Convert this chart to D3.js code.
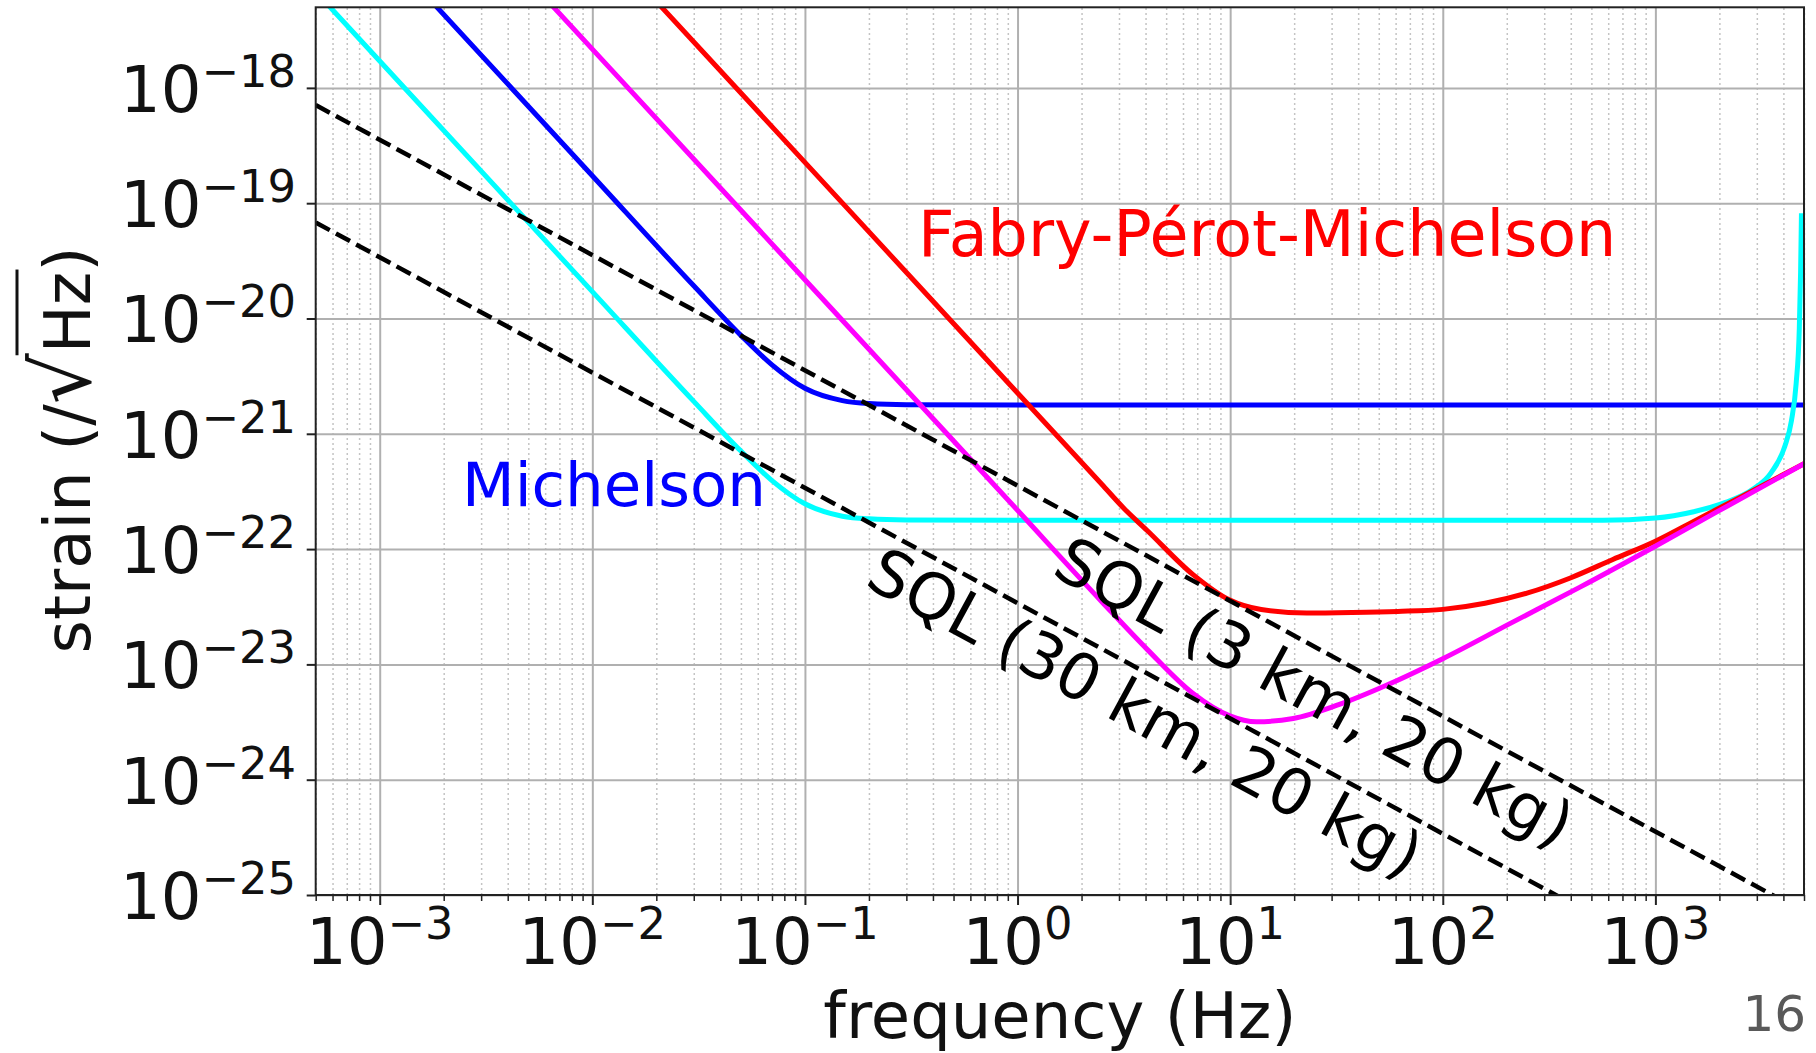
<!DOCTYPE html>
<html>
<head>
<meta charset="utf-8">
<script src="https://d3js.org/d3.v7.min.js"></script>
<style>
  body { margin: 0; background: #fff; }
  svg text { font-family: "DejaVu Sans", sans-serif; }
</style>
</head>
<body>
<svg id="chart" width="1816" height="1053"></svg>
<script>
// [frequency (Hz), strain (1/sqrt(Hz))]
var michelson = [[1.5e-3, 7.7e-18], [1e-2, 1.73e-19], [3e-2, 1.92e-20], [5e-2, 7.14e-21], [7e-2, 3.96e-21],
  [0.1, 2.48e-21], [0.15, 1.94e-21], [0.2, 1.83e-21], [0.3, 1.79e-21], [1, 1.78e-21], [5000, 1.78e-21]]
var michelsonLong = [[5e-4, 6.85e-18], [1e-3, 1.71e-18], [1e-2, 1.71e-20], [3e-2, 1.91e-21], [5e-2, 7.08e-22],
  [7e-2, 3.93e-22], [0.1, 2.47e-22], [0.15, 1.93e-22], [0.2, 1.83e-22], [0.3, 1.79e-22], [1, 1.78e-22],
  [100, 1.78e-22], [565, 1.78e-22], [1000, 1.86e-22], [1514, 2.11e-22], [2138, 2.54e-22], [2871, 3.30e-22],
  [3499, 4.59e-22], [4055, 7.71e-22], [4365, 1.30e-21], [4592, 2.72e-21], [4753, 8.24e-21], [4819, 2.51e-20],
  [4864, 8.18e-20]]
var fpm = [[0.015, 1.0e-17], [0.1, 2.26e-19], [1, 2.26e-21], [2.49, 3.65e-22], [3.16, 2.26e-22], [4.07, 1.45e-22],
  [6.67, 6.03e-23], [9.9, 3.63e-23], [14, 2.99e-23], [22.9, 2.79e-23], [37.5, 2.82e-23], [61.4, 2.88e-23],
  [100, 3.0e-23], [158, 3.39e-23], [251, 4.17e-23], [398, 5.62e-23], [631, 8.13e-23], [1000, 1.17e-22],
  [1585, 1.82e-22], [2512, 2.82e-22], [5000, 5.5e-22]]
var fpmLong = [[5e-3, 8.67e-18], [0.01, 2.17e-18], [0.1, 2.17e-20], [1, 2.17e-22], [2.49, 3.50e-23],
  [4.07, 1.35e-23], [6.67, 5.62e-24], [9.9, 3.60e-24], [13.3, 3.18e-24], [19.8, 3.39e-24], [32.4, 4.47e-24],
  [53, 6.46e-24], [100, 1.12e-23], [210, 2.29e-23], [442, 4.68e-23], [1009, 1.07e-22], [1936, 2.09e-22],
  [5000, 5.5e-22]]
var sql3km = [[5e-4, 7.1e-19], [5000, 7.1e-26]]
var sql30km = [[5e-4, 6.8e-20], [5000, 6.8e-27]]

var xTickExps = [-3, -2, -1, 0, 1, 2, 3]
var yTickExps = [-25, -24, -23, -22, -21, -20, -19, -18]

const pLeft = 315.7, pRight = 1804, pTop = 7.3, pBottom = 895
const fs = 64

var svg = d3.select("#chart")
svg.append("rect").attr("width", 1816).attr("height", 1053).attr("fill", "#fff")

var x = d3.scaleLog().domain([5e-4, 5e3]).range([pLeft, pRight])
var y = d3.scaleLog().domain([1e-25, 5e-18]).range([pBottom, pTop])

var xMajor = xTickExps.map(function(e){ return Math.pow(10, e) })
var yMajor = yTickExps.map(function(e){ return Math.pow(10, e) })
var xMinor = x.ticks().filter(function(v){
  var l = Math.log10(v); return Math.abs(l - Math.round(l)) > 1e-6 })

// grid
svg.append("g").attr("transform", "translate(0," + pBottom + ")")
  .call(d3.axisBottom(x).tickValues(xMinor).tickSize(-(pBottom - pTop)).tickFormat(""))
  .call(function(g){ g.select(".domain").remove() })
  .selectAll("line").attr("stroke", "#c4c4c4").attr("stroke-width", 1.5).attr("stroke-dasharray", "2,3")
svg.append("g").attr("transform", "translate(0," + pBottom + ")")
  .call(d3.axisBottom(x).tickValues(xMajor).tickSize(-(pBottom - pTop)).tickFormat(""))
  .call(function(g){ g.select(".domain").remove() })
  .selectAll("line").attr("stroke", "#b0b0b0").attr("stroke-width", 2)
svg.append("g").attr("transform", "translate(" + pLeft + ",0)")
  .call(d3.axisLeft(y).tickValues(yMajor).tickSize(-(pRight - pLeft)).tickFormat(""))
  .call(function(g){ g.select(".domain").remove() })
  .selectAll("line").attr("stroke", "#b0b0b0").attr("stroke-width", 2)

// curves
svg.append("clipPath").attr("id", "plot").append("rect")
  .attr("x", pLeft).attr("y", pTop).attr("width", pRight - pLeft).attr("height", pBottom - pTop)
var line = d3.line().x(function(d){ return x(d[0]) }).y(function(d){ return y(d[1]) }).curve(d3.curveMonotoneX)
var plot = svg.append("g").attr("clip-path", "url(#plot)")
var series = [
  {data: michelson, color: "#0000ff"},
  {data: michelsonLong, color: "#00ffff"},
  {data: fpm, color: "#ff0000"},
  {data: fpmLong, color: "#ff00ff"},
  {data: sql3km, color: "#000", dash: "16,7"},
  {data: sql30km, color: "#000", dash: "16,7"}
]
series.forEach(function(s){
  plot.append("path").attr("d", line(s.data)).attr("fill", "none")
    .attr("stroke", s.color).attr("stroke-width", s.dash ? 4.5 : 5)
    .attr("stroke-dasharray", s.dash || null)
})

// frame and ticks
svg.append("rect").attr("x", pLeft).attr("y", pTop).attr("width", pRight - pLeft).attr("height", pBottom - pTop)
  .attr("fill", "none").attr("stroke", "#222").attr("stroke-width", 2)
svg.append("g").attr("transform", "translate(0," + pBottom + ")")
  .call(d3.axisBottom(x).tickValues(xMinor).tickSize(6).tickFormat(""))
  .call(function(g){ g.select(".domain").remove() })
  .selectAll("line").attr("stroke", "#222").attr("stroke-width", 1.5)
svg.append("g").attr("transform", "translate(0," + pBottom + ")")
  .call(d3.axisBottom(x).tickValues(xMajor).tickSize(10).tickFormat(""))
  .call(function(g){ g.select(".domain").remove() })
  .selectAll("line").attr("stroke", "#222").attr("stroke-width", 2)
svg.append("g").attr("transform", "translate(" + pLeft + ",0)")
  .call(d3.axisLeft(y).tickValues(yMajor).tickSize(9).tickFormat(""))
  .call(function(g){ g.select(".domain").remove() })
  .selectAll("line").attr("stroke", "#222").attr("stroke-width", 2)

// tick labels 10^n
function powLabel(sel){
  sel.each(function(d){
    var t = d3.select(this)
    t.append("tspan").text("10")
    t.append("tspan").attr("dy", -25).attr("font-size", fs * 0.7)
      .text(d < 0 ? "\u2212" + Math.abs(d) : String(d))
  })
}
svg.append("g").selectAll("text").data(xTickExps).enter().append("text")
  .attr("x", function(d){ return x(Math.pow(10, d)) }).attr("y", pBottom + 69)
  .attr("text-anchor", "middle").attr("font-size", fs).attr("fill", "#111")
  .call(powLabel)
svg.append("g").selectAll("text").data(yTickExps).enter().append("text")
  .attr("x", 296).attr("y", function(d){ return y(Math.pow(10, d)) + 24 })
  .attr("text-anchor", "end").attr("font-size", fs).attr("fill", "#111")
  .call(powLabel)

// axis titles
svg.append("text").attr("x", (pLeft + pRight) / 2).attr("y", 1038)
  .attr("text-anchor", "middle").attr("font-size", fs).attr("fill", "#111")
  .text("frequency (Hz)")
var yl = svg.append("g").attr("transform", "translate(90,450) rotate(-90)")
var ylt = yl.append("text").attr("text-anchor", "middle").attr("font-size", fs).attr("fill", "#111")
ylt.append("tspan").text("strain (/")
ylt.append("tspan").attr("font-size", fs * 1.25).text("\u221A")
ylt.append("tspan").text("Hz")
ylt.append("tspan").text(")")
var n = ylt.node()
var vx0 = n.getEndPositionOfChar(9).x - 2, vx1 = n.getEndPositionOfChar(11).x + 2
yl.append("line").attr("x1", vx0).attr("x2", vx1).attr("y1", -73).attr("y2", -73)
  .attr("stroke", "#111").attr("stroke-width", 3)

// annotations
svg.append("text").attr("x", 918).attr("y", 256).attr("font-size", 63.5).attr("fill", "#ff0000")
  .text("Fabry-Pérot-Michelson")
svg.append("text").attr("x", 462).attr("y", 506).attr("font-size", 61).attr("fill", "#0000ff")
  .text("Michelson")
var ang = Math.atan((y(1e-22) - y(1e-21)) / (x(10) - x(1))) * 180 / Math.PI
svg.append("text").attr("transform", "translate(1050,574) rotate(" + ang + ")")
  .attr("font-size", fs).attr("fill", "#000").text("SQL (3 km, 20 kg)")
svg.append("text").attr("transform", "translate(863,585) rotate(" + ang + ")")
  .attr("font-size", fs).attr("fill", "#000").text("SQL (30 km, 20 kg)")

svg.append("text").attr("x", 1806).attr("y", 1031).attr("text-anchor", "end")
  .attr("font-size", 50).attr("fill", "#595959").text("16")
</script>
</body>
</html>
